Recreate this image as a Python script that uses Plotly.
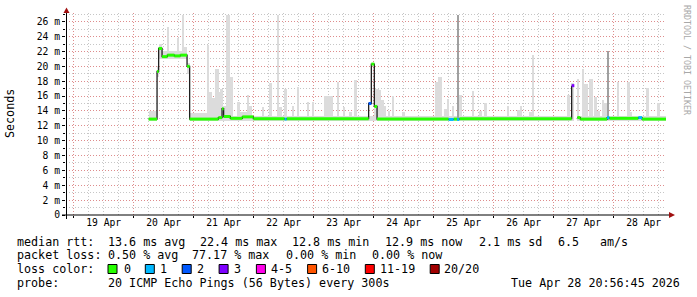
import plotly.graph_objects as go
import pandas as pd

# ---------------- data ----------------
start_time = "2026-04-18 20:56:45"
end_time = "2026-04-28 20:56:45"

# median RTT (ms) as step segments: start time, value, packet-loss bin index
med_time = ["2026-04-20 06:00", "2026-04-20 09:22", "2026-04-20 10:00", "2026-04-20 11:22",
            "2026-04-20 13:29", "2026-04-20 16:17", "2026-04-20 18:41", "2026-04-20 21:22",
            "2026-04-20 22:24", "2026-04-21 09:53", "2026-04-21 11:22", "2026-04-21 12:00",
            "2026-04-21 14:41", "2026-04-21 19:29", "2026-04-21 23:53", "2026-04-22 12:24",
            "2026-04-22 13:12", "2026-04-23 22:00", "2026-04-23 23:05", "2026-04-24 00:17",
            "2026-04-24 01:22", "2026-04-25 06:00", "2026-04-25 08:00", "2026-04-25 09:22",
            "2026-04-25 10:17", "2026-04-27 07:12", "2026-04-27 08:17", "2026-04-27 09:29",
            "2026-04-27 10:41", "2026-04-27 21:22", "2026-04-27 22:17", "2026-04-28 09:53",
            "2026-04-28 11:22"]
med_value = [12.9, 19.3, 22.4, 21.3, 21.5, 21.4, 21.5, 20.0, 12.9, 13.1, 14.3, 13.25,
             13.0, 13.2, 12.95, 12.9, 12.95, 15.0, 20.3, 14.6, 12.9, 12.85, 12.9, 12.85,
             12.95, 17.4, None, 13.1, 12.9, 13.1, 13.0, 13.1, 12.9]
med_loss = [0, 0, 0, 0, 0, 0, 0, 0, 0, 0, 0, 0, 0, 0, 0, 1, 0, 2, 0, 0, 0, 1, 0, 1,
            0, 3, None, 0, 0, 1, 0, 1, 0]

loss_labels = ["0", "1", "2", "3", "4-5", "6-10", "11-19", "20/20"]
loss_colors = ["#26ff00", "#00b8ff", "#0059ff", "#7e00ff", "#ff00ea", "#ff5500", "#ff0000", "#a10000"]

# light "smoke" band hugging the median
band_start = ["2026-04-20 06:00", "2026-04-20 22:24", "2026-04-21 05:22", "2026-04-27 09:29"]
band_end = ["2026-04-20 09:22", "2026-04-21 05:22", "2026-04-27 08:17", "2026-04-28 20:56:45"]
band_low = [12.7, 12.7, 12.7, 12.7]
band_high = [14.0, 13.7, 13.35, 13.35]

# smoke spikes (max ping per interval)
spike_start = ["2026-04-20 09:22", "2026-04-20 10:00", "2026-04-20 11:22", "2026-04-20 13:22",
               "2026-04-20 14:10", "2026-04-20 17:22", "2026-04-20 18:10", "2026-04-20 19:22",
               "2026-04-20 20:17", "2026-04-20 21:22",
               "2026-04-21 05:22", "2026-04-21 06:10", "2026-04-21 07:22", "2026-04-21 08:41",
               "2026-04-21 10:00", "2026-04-21 10:41", "2026-04-21 11:46", "2026-04-21 13:05",
               "2026-04-21 14:24", "2026-04-21 17:22", "2026-04-21 18:41", "2026-04-21 21:22",
               "2026-04-21 22:17", "2026-04-22 03:22", "2026-04-22 06:00", "2026-04-22 09:22",
               "2026-04-22 10:17", "2026-04-22 12:00", "2026-04-22 15:22", "2026-04-22 17:22",
               "2026-04-22 21:22", "2026-04-22 23:22", "2026-04-23 04:17", "2026-04-23 09:22",
               "2026-04-23 12:00", "2026-04-23 14:00", "2026-04-23 16:17", "2026-04-24 00:17",
               "2026-04-24 02:00", "2026-04-24 02:58", "2026-04-24 04:00", "2026-04-24 05:36",
               "2026-04-24 07:22", "2026-04-24 11:22", "2026-04-25 00:41", "2026-04-25 01:36",
               "2026-04-25 04:17", "2026-04-25 05:22", "2026-04-25 07:22", "2026-04-25 10:17",
               "2026-04-25 15:22", "2026-04-25 18:00", "2026-04-25 20:17", "2026-04-26 05:22",
               "2026-04-26 09:22", "2026-04-26 10:41", "2026-04-26 14:17", "2026-04-26 15:22",
               "2026-04-27 05:22", "2026-04-27 07:05", "2026-04-27 09:22", "2026-04-27 11:22",
               "2026-04-27 12:17", "2026-04-27 14:17", "2026-04-27 16:00", "2026-04-27 17:22",
               "2026-04-27 19:22", "2026-04-27 20:00", "2026-04-28 01:22", "2026-04-28 05:22",
               "2026-04-28 06:24", "2026-04-28 13:05", "2026-04-28 17:22"]
spike_end = ["2026-04-20 10:00", "2026-04-20 11:22", "2026-04-20 13:22", "2026-04-20 14:10",
             "2026-04-20 17:22", "2026-04-20 18:10", "2026-04-20 19:22", "2026-04-20 20:17",
             "2026-04-20 21:22", "2026-04-20 22:24",
             "2026-04-21 06:10", "2026-04-21 07:22", "2026-04-21 08:41", "2026-04-21 10:00",
             "2026-04-21 10:41", "2026-04-21 11:46", "2026-04-21 13:05", "2026-04-21 14:24",
             "2026-04-21 15:46", "2026-04-21 18:41", "2026-04-21 21:22", "2026-04-21 22:17",
             "2026-04-21 23:29", "2026-04-22 04:00", "2026-04-22 07:22", "2026-04-22 10:17",
             "2026-04-22 11:22", "2026-04-22 13:22", "2026-04-22 16:10", "2026-04-22 18:00",
             "2026-04-22 22:00", "2026-04-23 00:00", "2026-04-23 07:36", "2026-04-23 10:17",
             "2026-04-23 12:41", "2026-04-23 15:22", "2026-04-23 17:22", "2026-04-24 02:00",
             "2026-04-24 02:58", "2026-04-24 04:00", "2026-04-24 05:05", "2026-04-24 06:41",
             "2026-04-24 08:00", "2026-04-24 12:41", "2026-04-25 01:36", "2026-04-25 03:22",
             "2026-04-25 05:22", "2026-04-25 06:10", "2026-04-25 08:17", "2026-04-25 11:22",
             "2026-04-25 16:17", "2026-04-25 19:22", "2026-04-25 21:22", "2026-04-26 06:17",
             "2026-04-26 10:41", "2026-04-26 11:22", "2026-04-26 15:22", "2026-04-26 16:17",
             "2026-04-27 06:24", "2026-04-27 08:00", "2026-04-27 10:17", "2026-04-27 12:17",
             "2026-04-27 13:36", "2026-04-27 15:36", "2026-04-27 17:22", "2026-04-27 18:41",
             "2026-04-27 20:00", "2026-04-27 21:22", "2026-04-28 02:17", "2026-04-28 06:24",
             "2026-04-28 07:29", "2026-04-28 14:10", "2026-04-28 18:24"]
spike_top = [20.0, 23.0, 22.0, 25.3, 22.0, 23.8, 22.0, 26.9, 22.6, 20.4,
             22.9, 16.6, 15.7, 19.6, 16.6, 17.0, 14.6, 26.9, 18.6, 15.2, 13.9, 16.1,
             14.6, 14.56, 17.7, 26.9, 14.56, 16.95, 14.6, 17.25, 15.2, 15.2, 16.05, 17.9,
             14.56, 13.9, 18.2, 17.0, 16.8, 15.5, 14.6, 14.0, 16.0, 13.9, 17.85, 18.6,
             14.25, 15.6, 14.6, 16.1, 16.7, 14.0, 15.0, 14.65, 14.1, 14.6, 13.9, 21.5,
             16.1, 17.7, 18.3, 19.7, 17.6, 18.3, 15.9, 14.0, 15.5, 15.0, 17.9, 17.9,
             13.9, 17.1, 15.0]
spike_low = [18.5, 21.0, 21.0, 21.0, 21.0, 21.0, 21.0, 21.0, 21.0, 19.0] + [12.8] * 63

# darker (denser) smoke columns
dark_start = ["2026-04-25 09:22", "2026-04-27 21:22"]
dark_end = ["2026-04-25 10:17", "2026-04-27 22:17"]
dark_top = [26.9, 22.0]
dark_low = [12.8, 12.8]

day_ticks = ["2026-04-%02d" % d for d in range(19, 29)]
day_labels = ["%d Apr" % d for d in range(19, 29)]
noon_ticks = ["2026-04-%02d 12:00" % d for d in range(19, 29)]
y_ticks = list(range(0, 27, 2))
y_labels = ["0"] + ["%d m" % v for v in y_ticks[1:]]

# ---------------- figure ----------------
MONO = "DejaVu Sans Mono"
fig = go.Figure()


def bars(starts, ends, lows, highs, color):
    s = pd.to_datetime(pd.Series(starts), format="mixed")
    e = pd.to_datetime(pd.Series(ends), format="mixed")
    mid = s + (e - s) / 2
    width = [(b - a).total_seconds() * 1000 for a, b in zip(s, e)]
    fig.add_trace(go.Bar(x=list(mid), y=[h - l for h, l in zip(highs, lows)], base=lows,
                         width=width, marker=dict(color=color, line=dict(width=0)),
                         hoverinfo="skip", showlegend=False))


bars(band_start, band_end, band_low, band_high, "#dcdcdc")
bars(spike_start, spike_end, spike_low, spike_top, "#dcdcdc")
bars(dark_start, dark_end, dark_low, dark_top, "#a0a0a0")

# black step line of the median
fig.add_trace(go.Scatter(x=med_time + [end_time], y=med_value + [med_value[-1]],
                         mode="lines", line=dict(color="#202020", width=1.3, shape="hv"),
                         connectgaps=False, hoverinfo="skip", showlegend=False))

# colored horizontal segments by loss bin
bounds = med_time + [end_time]
for k, col in enumerate(loss_colors):
    xs, ys = [], []
    for i, v in enumerate(med_value):
        if v is None or med_loss[i] != k:
            continue
        xs += [bounds[i], bounds[i + 1], None]
        ys += [v, v, None]
    if xs:
        fig.add_trace(go.Scatter(x=xs, y=ys, mode="lines", line=dict(color=col, width=3),
                                 hoverinfo="skip", showlegend=False))

# helper trace for label axis
fig.add_trace(go.Scatter(x=[start_time], y=[0], xaxis="x2", mode="markers",
                         marker=dict(opacity=0), hoverinfo="skip", showlegend=False))

RED_GRID = "rgba(230,120,120,0.75)"
GRAY_GRID = "rgba(160,160,160,0.6)"

fig.update_layout(
    width=697, height=297,
    margin=dict(l=66, r=31, t=13, b=82),
    paper_bgcolor="white", plot_bgcolor="white",
    barmode="overlay", bargap=0,
    xaxis=dict(type="date", range=[start_time, end_time], tickmode="array",
               tickvals=day_ticks, ticktext=[""] * len(day_ticks),
               showgrid=True, gridcolor=RED_GRID, griddash="1px,2px", gridwidth=1,
               ticks="outside", ticklen=2, tickcolor="#000", showline=False, zeroline=False,
               minor=dict(dtick=6 * 3600 * 1000, tick0="2026-04-19", showgrid=True,
                          gridcolor=GRAY_GRID, griddash="1px,2px", gridwidth=1)),
    xaxis2=dict(type="date", range=[start_time, end_time], overlaying="x", side="bottom",
                anchor="y", tickmode="array", tickvals=noon_ticks, ticktext=day_labels,
                showgrid=False, showline=False, zeroline=False, ticks="",
                tickfont=dict(family=MONO, size=9.7, color="#000")),
    yaxis=dict(range=[0, 27.17], tickmode="array", tickvals=y_ticks, ticktext=y_labels,
               showgrid=True, gridcolor=RED_GRID, griddash="1px,2px", gridwidth=1,
               ticks="outside", ticklen=3, tickcolor="#000", showline=False, zeroline=False,
               tickfont=dict(family=MONO, size=9.7, color="#000"),
               minor=dict(dtick=1, showgrid=True, gridcolor=GRAY_GRID, griddash="1px,2px",
                          gridwidth=1, ticks="outside", ticklen=2, tickcolor="#000")),
)


def px(xp):
    return (xp - 66) / 600.0


def py(yp):
    return (215 - yp) / 202.0


# axis lines and arrows
fig.add_shape(type="line", xref="paper", yref="paper", x0=px(62), x1=px(670), y0=0, y1=0,
              line=dict(color="#000", width=1))
fig.add_shape(type="line", xref="paper", yref="paper", x0=px(66.5), x1=px(66.5), y0=py(219), y1=py(12),
              line=dict(color="#000", width=1))
fig.add_shape(type="path", xref="paper", yref="paper", fillcolor="#a01010", line=dict(width=0),
              path="M %f,%f L %f,%f L %f,%f Z" % (px(63.5), py(13), px(69.5), py(13), px(66.5), py(7.5)))
fig.add_shape(type="path", xref="paper", yref="paper", fillcolor="#a01010", line=dict(width=0),
              path="M %f,%f L %f,%f L %f,%f Z" % (px(669), py(212), px(669), py(218), px(675), py(215)))

TXT = dict(family=MONO, size=11.7, color="#000")


def note(text, xp, yp, anchor="left", font=TXT, angle=0):
    fig.add_annotation(text=text, xref="paper", yref="paper", x=px(xp), y=py(yp),
                       xanchor=anchor, yanchor="middle", showarrow=False, font=font,
                       borderpad=0, borderwidth=0, textangle=angle)


NB = "\u00a0"
note("Seconds", 10, 114, anchor="center", angle=-90)
note("RRDTOOL / TOBI OETIKER", 687, 60, anchor="center", angle=90,
     font=dict(family=MONO, size=8.3, color="#a8a8a8"))

# legend / statistics
row1 = [("median rtt:", 16.5), ("13.6 ms avg", 107.5), ("22.4 ms max", 200), ("12.8 ms min", 292),
        ("12.9 ms now", 385.3), ("2.1 ms sd", 478.7), ("6.5", 557.8), ("am/s", 600)]
row2 = [("packet loss:", 16.5), ("0.50 % avg", 107.5), ("77.17 % max", 192.4), ("0.00 % min", 285.8),
        ("0.00 % now", 371.6)]
for t, xp in row1:
    note(t.replace(" ", NB), xp, 241.7)
for t, xp in row2:
    note(t.replace(" ", NB), xp, 255)
note("loss" + NB + "color:", 16.5, 269)
box_x = [108, 145.3, 182.2, 219.1, 256.4, 307.6, 365.3, 430.2]
lab_x = [123.6, 160, 197, 234, 271, 322, 380, 444.4]
for lab, col, bx, lx in zip(loss_labels, loss_colors, box_x, lab_x):
    fig.add_shape(type="rect", xref="paper", yref="paper", x0=px(bx), x1=px(bx + 9),
                  y0=py(273.5), y1=py(264.5), fillcolor=col, line=dict(color="#000", width=1))
    note(lab, lx, 269)
note("probe:", 16.5, 282.7)
note("20 ICMP Echo Pings (56 Bytes) every 300s".replace(" ", NB), 107.5, 282.7)
note("Tue Apr 28 20:56:45 2026".replace(" ", NB), 680, 282.7, anchor="right")

fig.write_html("out.html")
